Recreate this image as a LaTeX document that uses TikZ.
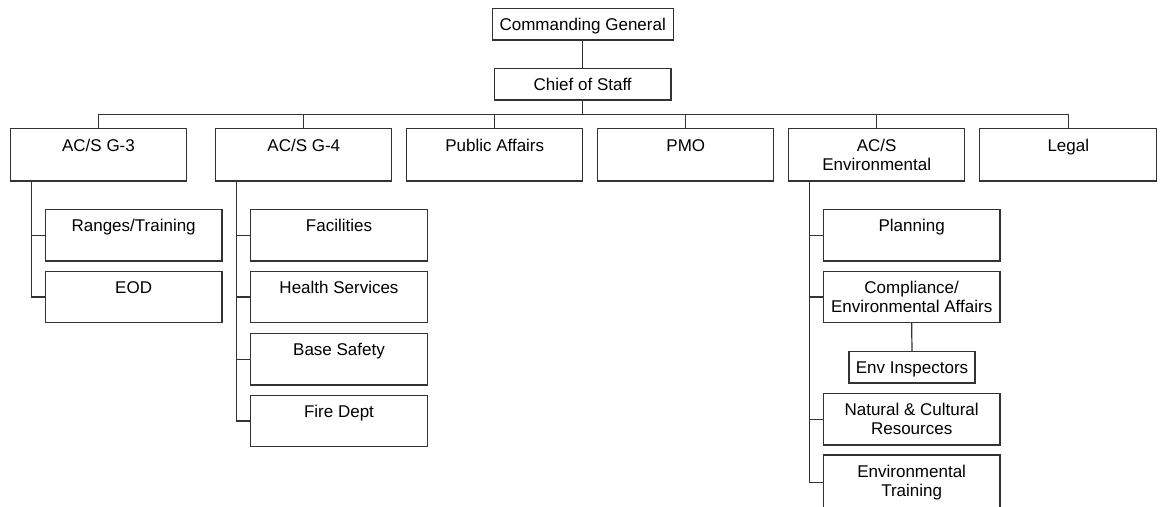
\documentclass[tikz,border=0pt]{standalone}
\usepackage{fontspec}
\setmainfont{Liberation Sans}
\newcommand{\tbox}[4]{\parbox[c][#2][t]{#1}{\centering\rule{0pt}{#3}#4\par}}
\tikzset{
  ln/.style={draw=black!80, line width=1.2pt},
  box/.style={draw=black!80, line width=1.2pt, inner sep=0pt, outer sep=0pt,
    font=\fontsize{17}{19.5}\selectfont},
  ctr/.style={box, text height=12.2pt, text depth=0pt},
}
\begin{document}
\begin{tikzpicture}[x=1pt, y=-1pt]
\useasboundingbox (0,0) rectangle (1161,506);
\clip (0,0) rectangle (1161,506);
% top
\node[ctr, minimum width=181pt, minimum height=31.7pt] (cg) at (582.7,24.15) {Commanding General};
\node[ctr, minimum width=176.7pt, minimum height=31.7pt] (cos) at (582.7,84.15) {Chief of Staff};
\coordinate (bus) at (582.7,114.5);
% level 2
\node[box] (g3)  at (98.5,154.65)  {\tbox{176pt}{52.7pt}{23pt}{AC/S G-3}};
\node[box] (g4)  at (303.8,154.65) {\tbox{176pt}{52.7pt}{23pt}{AC/S G-4}};
\node[box] (pa)  at (494.7,154.65) {\tbox{176pt}{52.7pt}{23pt}{Public Affairs}};
\node[box] (pmo) at (685.8,154.65) {\tbox{176pt}{52.7pt}{23pt}{PMO}};
\node[box] (env) at (876.7,154.65) {\tbox{176pt}{52.7pt}{23pt}{AC/S\\Environmental}};
\node[box] (leg) at (1068.3,154.65) {\tbox{177pt}{52.7pt}{23pt}{Legal}};
% G-3 children
\node[box] (rng) at (133.65,235.15) {\tbox{176.7pt}{51.7pt}{22pt}{Ranges/Training}};
\node[box] (eod) at (133.65,297)    {\tbox{176.7pt}{51.7pt}{22pt}{EOD}};
% G-4 children
\node[box] (fac) at (339,235.15) {\tbox{176.7pt}{51.7pt}{22pt}{Facilities}};
\node[box] (hs)  at (339,297)    {\tbox{176.7pt}{51.7pt}{22pt}{Health Services}};
\node[box] (bs)  at (339,359.15) {\tbox{176.7pt}{51.7pt}{22pt}{Base Safety}};
\node[box] (fd)  at (339,421)    {\tbox{176.7pt}{51.7pt}{22pt}{Fire Dept}};
% Env children
\node[box] (plan) at (911.65,235.15) {\tbox{176.7pt}{51.7pt}{22pt}{Planning}};
\node[box] (comp) at (911.65,297)    {\tbox{176.7pt}{51.7pt}{22pt}{Compliance/\\Environmental Affairs}};
\node[ctr, minimum width=126pt, minimum height=31.3pt] (insp) at (912,367.35) {Env Inspectors};
\node[box] (nat)  at (911.65,419.15) {\tbox{176.7pt}{51.7pt}{22pt}{Natural \& Cultural\\Resources}};
\node[box] (etr)  at (911.65,482.5)  {\tbox{176.7pt}{55pt}{22pt}{Environmental\\Training}};
% connectors
\draw[ln] (cg) -- (cos);
\draw[ln] (cos.south) -- (bus);
\draw[ln] (g3.north) |- (bus) -| (leg.north);
\foreach \n in {g4,pa,pmo,env} \draw[ln] (\n.north) -- (\n.north |- bus);
\foreach \n in {rng,eod} \draw[ln] ([xshift=21pt]g3.south west) |- (\n.west);
\foreach \n in {fac,hs,bs,fd} \draw[ln] ([xshift=21pt]g4.south west) |- (\n.west);
\foreach \n in {plan,comp,nat,etr} \draw[ln] ([xshift=21pt]env.south west) |- (\n.west);
\draw[ln] (comp.south) -- (insp.north);
\end{tikzpicture}
\end{document}
